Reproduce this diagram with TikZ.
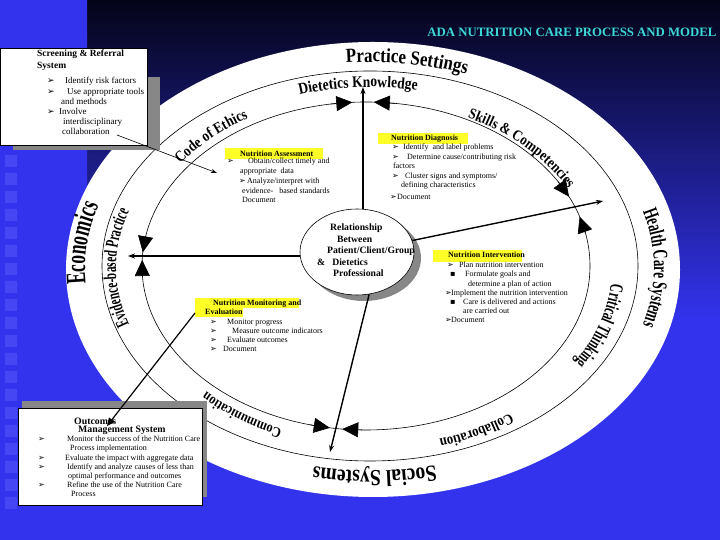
\documentclass[tikz,border=0pt]{standalone}
\usepackage{fontspec}
\setmainfont{Liberation Serif}
\newfontfamily\symfont{DejaVu Sans}
\newfontfamily\ringwide[FakeStretch=0.85]{Liberation Serif}
\newfontfamily\ringnarrow[FakeStretch=0.62]{Liberation Serif}
\usepackage{xcolor}
\usepackage{tikz}
\usetikzlibrary{arrows.meta,calc,decorations.text,shapes.geometric,positioning}

\definecolor{bgdark}{RGB}{4,4,24}
\definecolor{bgblue}{RGB}{51,51,238}
\definecolor{hilite}{RGB}{255,255,40}
\definecolor{titlecyan}{RGB}{60,215,215}
\definecolor{shadowgray}{RGB}{135,135,135}
\definecolor{stripsq}{RGB}{95,95,255}

\newcommand{\bulglyph}{{\symfont\char"27A2}}
\newcommand{\sqglyph}{{\symfont\char"25AA}}
\newcommand{\abul}[1]{\makebox[#1][l]{\bulglyph}}
\newcommand{\qbul}[1]{\makebox[#1][l]{\sqglyph}}
\newcommand{\ringlabel}[6]{\path[decorate,decoration={text along path,text align=center,text={|#5|#6}}] ($(ringc)+(#1:#3 and #4)$) arc[start angle=#1,end angle=#2,x radius=#3,y radius=#4];}

\begin{document}
\begin{tikzpicture}[x=1pt,y=1pt,
	ringline/.style={draw=black, line width=0.6pt},
	cyctip/.style={line width=0.6pt, -{Triangle[length=16pt,width=15pt]}},
	spoke/.style={line width=1.4pt, -{Stealth[length=7pt,width=5pt]}},
	pointer/.style={line width=0.6pt, -{Stealth[length=6pt,width=4pt]}},
	monarrow/.style={line width=1.2pt, -{Triangle[length=8pt,width=7pt]}},
	relshape/.style={ellipse, draw=black, line width=0.6pt, fill=white, minimum width=114pt, minimum height=86pt, inner sep=0pt},
	reltext/.style={anchor=base west, align=left, inner sep=0pt, font=\bfseries\fontsize{9.7}{11.5}\selectfont},
	hlhead/.style={anchor=base west, align=left, inner sep=0pt, font=\bfseries\fontsize{8}{9}\selectfont},
	blocktext/.style={anchor=base west, align=left, inner sep=0pt, font=\fontsize{8}{9.5}\selectfont},
	sidebox/.style={rectangle, draw=black, line width=0.8pt, fill=white, inner sep=0pt},
	scrhead/.style={anchor=base west, align=left, inner sep=0pt, font=\bfseries\fontsize{9.5}{12}\selectfont},
	scrlist/.style={anchor=base west, align=left, inner sep=0pt, font=\fontsize{9}{10.2}\selectfont},
	outhead/.style={anchor=base west, inner sep=0pt, font=\bfseries\fontsize{9.8}{10}\selectfont},
	titletext/.style={anchor=base, inner sep=0pt, text=titlecyan, font=\bfseries\fontsize{12.8}{14}\selectfont}]
	\useasboundingbox (0,0) rectangle (720,540);
	\fill[bgblue] (0,0) rectangle (720,540);
	\shade[top color=bgdark, bottom color=bgblue] (87,220) rectangle (720,540);
	\shade[top color=bgblue, middle color=bgdark!85!bgblue, bottom color=bgblue] (0,0) rectangle (87,540);
	\fill[stripsq, opacity=0.45] (5,373) rectangle ++(12,12) (5,355) rectangle ++(12,12) (5,337) rectangle ++(12,12) (5,319) rectangle ++(12,12)
		(5,301) rectangle ++(12,12) (5,283) rectangle ++(12,12) (5,265) rectangle ++(12,12) (5,247) rectangle ++(12,12)
		(5,229) rectangle ++(12,12) (5,211) rectangle ++(12,12) (5,193) rectangle ++(12,12) (5,175) rectangle ++(12,12)
		(5,157) rectangle ++(12,12) (5,139) rectangle ++(12,12) (5,121) rectangle ++(12,12) (5,103) rectangle ++(12,12)
		(5,85) rectangle ++(12,12) (5,67) rectangle ++(12,12) (5,49) rectangle ++(12,12) (5,31) rectangle ++(12,12);

	\fill[white] (373,270.5) ellipse [x radius=307, y radius=227.5];
	\coordinate (cA) at (370,274);
	\coordinate (cB) at (366,274);
	\coordinate (ringc) at (370,272);
	\draw[ringline] (cA) ellipse [x radius=268, y radius=195];
	\draw[ringline] (cB) ellipse [x radius=224, y radius=164];

	\ringlabel{112}{52}{281}{206}{\ringwide\bfseries\fontsize{20}{20}\selectfont}{Practice Settings}
	\ringlabel{209}{139}{285}{202}{\ringnarrow\bfseries\fontsize{28}{28}\selectfont}{Economics}
	\ringlabel{35}{-35}{284}{204}{\ringnarrow\bfseries\fontsize{21}{21}\selectfont}{Health Care Systems}
	\ringlabel{301}{241}{280}{203}{\ringwide\bfseries\fontsize{23}{23}\selectfont}{Social Systems}
	\ringlabel{123}{63}{240}{181}{\ringwide\bfseries\fontsize{16}{16}\selectfont}{Dietetics Knowledge}
	\ringlabel{75}{15}{225}{167}{\ringwide\bfseries\fontsize{15.3}{15.3}\selectfont}{Skills {\&} Competencies}
	\ringlabel{164}{104}{236}{175}{\ringwide\bfseries\fontsize{15.5}{15.5}\selectfont}{Code of Ethics}
	\ringlabel{215}{145}{254}{178}{\ringnarrow\bfseries\fontsize{18.2}{18.2}\selectfont}{Evidence-based Practice}
	\ringlabel{18}{-52}{242}{177}{\ringnarrow\bfseries\fontsize{19}{19}\selectfont}{Critical Thinking}
	\ringlabel{333}{263}{241}{179}{\ringwide\bfseries\fontsize{15}{15}\selectfont}{Collaboration}
	\ringlabel{269.5}{199.5}{233}{174}{\ringwide\bfseries\fontsize{14.5}{14.5}\selectfont}{Communication}

	\draw[cyctip] ($(cB)+(99:224 and 164)$) -- ($(cB)+(93.5:224 and 164)$);
	\draw[cyctip] ($(cB)+(82.5:224 and 164)$) -- ($(cB)+(88:224 and 164)$);
	\draw[cyctip] ($(cB)+(170:224 and 164)$) -- ($(cB)+(175.2:224 and 164)$);
	\draw[cyctip] ($(cB)+(183:224 and 164)$) -- ($(cB)+(177.9:224 and 164)$);
	\draw[cyctip] ($(cB)+(31:224 and 164)$) -- ($(cB)+(25:224 and 164)$);
	\draw[cyctip] ($(cB)+(11.5:224 and 164)$) -- ($(cB)+(17.5:224 and 164)$);
	\draw[cyctip] ($(cB)+(255.5:224 and 164)$) -- ($(cB)+(260.7:224 and 164)$);
	\draw[cyctip] ($(cB)+(269:224 and 164)$) -- ($(cB)+(263.9:224 and 164)$);

	\coordinate (relc) at (357,288);
	\fill[shadowgray] ($(relc)+(7,-6)$) ellipse [x radius=57, y radius=43];
	\node[relshape] (rel) at (relc) {};
	\node[reltext] (relwords) at (317,263) {\hspace*{13pt}Relationship\\\hspace*{20pt}Between\\\hspace*{10pt}Patient/Client/Group\\\&\hspace*{7pt}Dietetics\\\hspace*{16pt}Professional};
	\coordinate (topend) at (363,453);
	\coordinate (leftend) at (128,284);
	\coordinate (rightend) at (603,339);
	\coordinate (botend) at (330,88);
	\draw[spoke] (rel.north -| topend) -- (topend);
	\draw[spoke] (rel.west |- leftend) -- (leftend);
	\draw[spoke] (rel) -- (rightend);
	\draw[spoke] (rel.-74) -- (botend);

	\fill[hilite] (225,381) rectangle (323,392);
	\node[hlhead] (asshead) at (240,383) {Nutrition Assessment};
	\node[blocktext, font=\fontsize{8}{9.75}\selectfont] (asstext) at (227,337) {\abul{21pt}Obtain/collect timely and\\\hspace*{13pt}appropriate\ \ data\\\hspace*{12pt}\abul{8pt}Analyze/interpret with\\\hspace*{15pt}evidence-\ \ \ based standards\\\hspace*{15pt}Document};

	\fill[hilite] (378,396) rectangle (468,407);
	\node[hlhead] (diaghead) at (391,399) {Nutrition Diagnosis};
	\node[blocktext, font=\fontsize{8}{9.6}\selectfont] (diagtext) at (392,340) {\abul{11pt}Identify\ \ and label problems\\\abul{15pt}Determine cause/contributing risk\\\hspace*{1pt}factors\\\abul{13pt}Cluster signs and symptoms/\\\hspace*{9pt}defining characteristics\\[2.4pt]\hspace*{-2pt}\abul{7pt}Document};

	\fill[hilite] (433,278) rectangle (522,290);
	\node[hlhead] (inthead) at (448,282) {Nutrition Intervention};
	\node[blocktext, font=\fontsize{8}{9.2}\selectfont] (inttext) at (445,217) {\hspace*{2pt}\abul{12pt}Plan nutrition intervention\\\hspace*{5pt}\qbul{15pt}Formulate goals and\\\hspace*{23pt}determine a plan of action\\\abul{6pt}Implement the nutrition intervention\\\hspace*{5pt}\qbul{13pt}Care is delivered and actions\\\hspace*{18pt}are carried out\\\abul{6pt}Document};

	\fill[hilite] (195,232) rectangle (299,242);
	\fill[hilite] (195,223) rectangle (243,232);
	\node[hlhead] (monhead) at (205,225) {\hspace*{8pt}Nutrition Monitoring and\\Evaluation};
	\node[blocktext, font=\fontsize{8}{9}\selectfont] (montext) at (210,188) {\abul{17pt}Monitor progress\\\abul{22pt}Measure outcome indicators\\\abul{17pt}Evaluate outcomes\\\abul{13pt}Document};

	\fill[shadowgray] (13,390) rectangle (160,463);
	\node[sidebox, minimum width=147pt, minimum height=97pt] (scr) at (73.5,443.5) {};
	\node[scrhead] (scrtitle) at (37,471) {Screening \& Referral\\System};
	\node[scrlist] (scrpoints) at (36,405) {\hspace*{11pt}\abul{18pt}Identify risk factors\\\hspace*{11pt}\abul{20pt}Use appropriate tools\\\hspace*{25pt}and methods\\\hspace*{11pt}\abul{12pt}Involve\\\hspace*{27pt}interdisciplinary\\\hspace*{26pt}collaboration};
	\coordinate (scrtail) at (117,405);
	\coordinate (asstip) at (217,367);
	\draw[pointer] (scrtail) -- (asstip);

	\fill[shadowgray] (22,43) rectangle (207,139);
	\node[sidebox, minimum width=184pt, minimum height=97pt] (outc) at (110,83.5) {};
	\node[outhead] (outtitle) at (74,115) {Outcomes};
	\node[outhead] (outsub) at (78,107) {Management System};
	\node[blocktext, font=\fontsize{8}{9.2}\selectfont] (outpoints) at (38,43) {\abul{29pt}Monitor the success of the Nutrition Care\\\hspace*{32pt}Process implementation\\\abul{27pt}Evaluate the impact with aggregate data\\\abul{29pt}Identify and analyze causes of less than\\\hspace*{30pt}optimal performance and outcomes\\\abul{29pt}Refine the use of the Nutrition Care\\\hspace*{33pt}Process};
	\coordinate (montail) at (195,227);
	\coordinate (outtip) at (107,114);
	\draw[monarrow] (montail) -- (outtip);

	\node[titletext] (title) at (572,503) {ADA NUTRITION CARE PROCESS AND MODEL};
\end{tikzpicture}
\end{document}
